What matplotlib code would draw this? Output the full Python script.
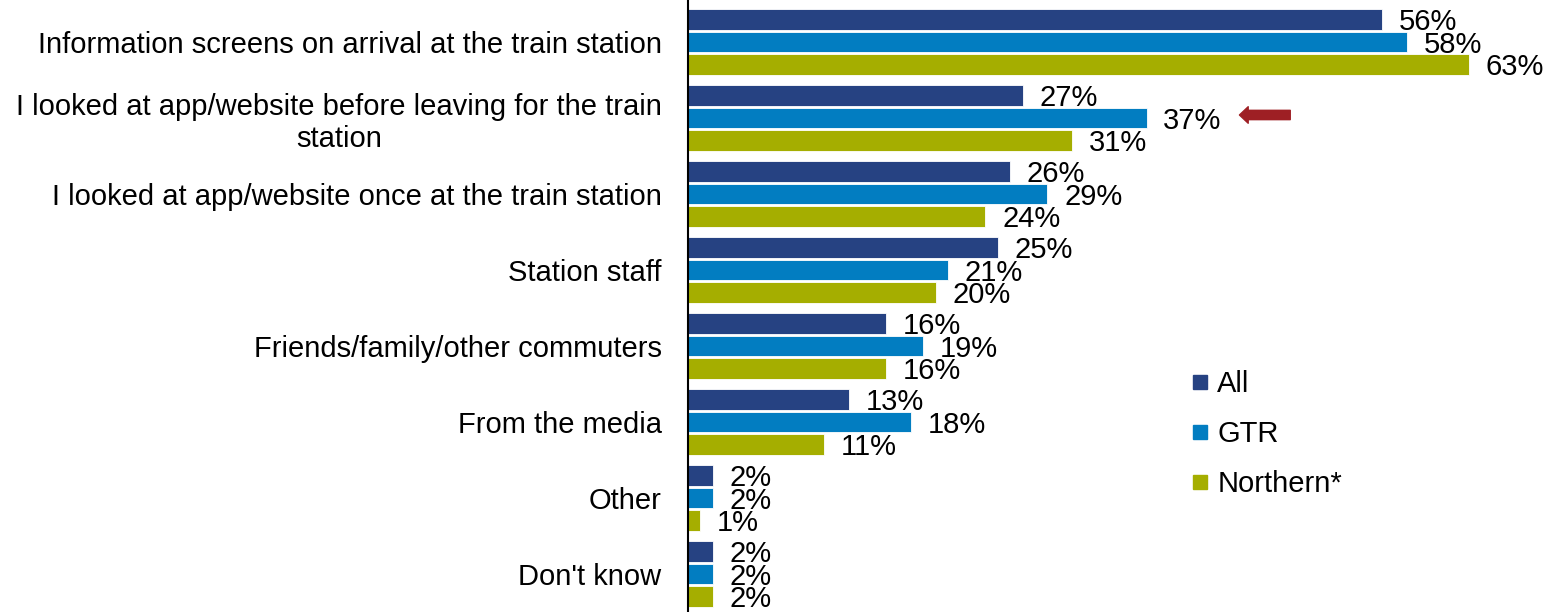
import matplotlib.pyplot as plt
from matplotlib.lines import Line2D
import numpy as np

plt.rcParams.update({'font.family': ['Liberation Sans', 'DejaVu Sans'], 'font.size': 21})

# --- dados ---
categorias = [
    "Information screens on arrival at the train station",
    "I looked at app/website before leaving for the train\nstation",
    "I looked at app/website once at the train station",
    "Station staff",
    "Friends/family/other commuters",
    "From the media",
    "Other",
    "Don't know",
]
series = ["All", "GTR", "Northern*"]
val_all = [56, 27, 26, 25, 16, 13, 2, 2]
val_gtr = [58, 37, 29, 21, 19, 18, 2, 2]
val_northern = [63, 31, 24, 20, 16, 11, 1, 2]

cores = ['#264282', '#027dc1', '#a5ae00']

fig = plt.figure(figsize=(15.48, 6.12), dpi=100)
ax = fig.add_axes([688 / 1548, 0, 1 - 688 / 1548, 1])

y = np.arange(len(categorias))
passo = 0.297
altura = 0.27

for k, (nome, vals, cor) in enumerate(zip(series, [val_all, val_gtr, val_northern], cores)):
    pos = y + (k - 1) * passo
    ax.barh(pos, vals, height=altura, color=cor, edgecolor='white', linewidth=0.6, label=nome)
    for p, v in zip(pos, vals):
        ax.annotate(f"{v}%", xy=(v, p), xytext=(12, -2), textcoords='offset points',
                    ha='left', va='center', fontsize=21, color='black')

ax.set_xlim(0, 69.4)
ax.set_ylim(7.5, -0.553)

ax.set_yticks(y)
ax.set_yticklabels(categorias)
for lbl in ax.get_yticklabels():
    lbl.set_multialignment('center')
ax.tick_params(axis='y', length=0, pad=19)
ax.set_xticks([])

for lado in ['top', 'right', 'bottom']:
    ax.spines[lado].set_visible(False)
ax.spines['left'].set_linewidth(1.5)
ax.spines['left'].set_color('black')

# seta destacando o GTR
ax.annotate('', xy=(44.5, 0.96), xytext=(48.6, 0.96),
            arrowprops=dict(arrowstyle='simple,head_length=0.45,head_width=0.85,tail_width=0.48',
                            color='#9e1f24', mutation_scale=14, shrinkA=0, shrinkB=0))

# legenda
handles = [Line2D([], [], marker='s', linestyle='none', markersize=10, color=c) for c in cores]
fig.legend(handles, series, loc='upper left', bbox_to_anchor=(1191 / 1548, 1 - 370 / 612),
           frameon=False, handlelength=0.6, handletextpad=0.3, labelspacing=0.76,
           borderpad=0, borderaxespad=0, fontsize=21)

plt.savefig('out.png', dpi=100)
